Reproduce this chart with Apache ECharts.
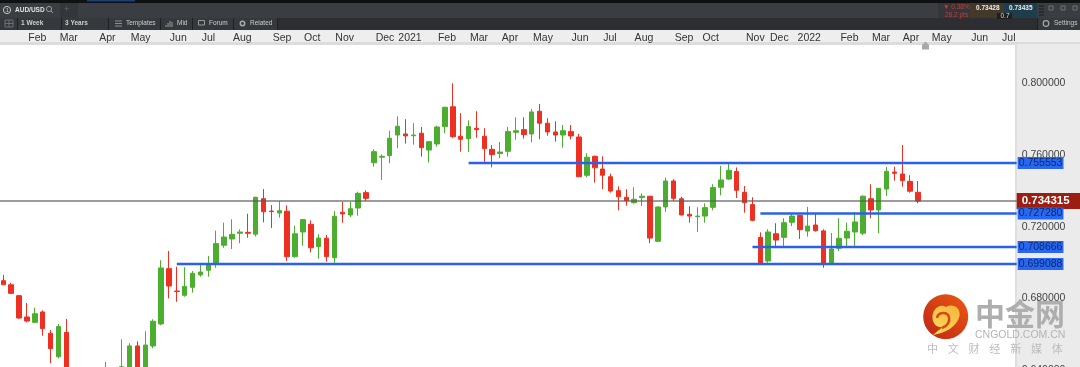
<!DOCTYPE html>
<html><head><meta charset="utf-8">
<style>html,body{margin:0;padding:0;background:#fff;overflow:hidden}#c{width:1080px;height:367px;filter:blur(0.35px)}</style>
<script src="https://cdn.jsdelivr.net/npm/echarts@6/dist/echarts.min.js"></script>
</head><body><div id="c"></div>
<script>
// Weekly AUD/USD candles. Candles 9-14 lie below the visible window: estimated.
const opens=[.6898,.6875,.6814,.6695,.6665,.6723,.6604,.6473,.6609,.6140,.5810,.6130,.6010,.6350,.6380,.6405,.6390,.6533,.6400,.6533,
.6656,.6965,.6840,.6816,.6861,.6930,.6956,.6995,.7096,.7131,.7163,.7168,.7158,.7356,.7287,.7276,.7286,.7032,.7170,.7213,
.7088,.7135,.7026,.7280,.7265,.7304,.7390,.7557,.7588,.7597,.7712,.7718,.7708,.7722,.7628,.7662,.7759,.7870,.7705,.7691,
.7750,.7705,.7632,.7609,.7621,.7727,.7742,.7718,.7845,.7778,.7729,.7712,.7731,.7701,.7487,.7593,.7522,.7479,.7401,.7364,
.7334,.7362,.7370,.7118,.7310,.7455,.7356,.7269,.7256,.7259,.7308,.7420,.7466,.7508,.7392,.7323,.7140,.7008,.7160,.7140,
.7224,.7263,.7175,.7209,.7176,.6995,.7079,.7136,.7170,.7163,.7356,.7293,.7410,.7505,.7494,.7453,.7392];
const closes=[.6875,.6827,.6689,.6672,.6713,.6630,.6518,.6641,.6140,.5810,.6130,.6010,.6350,.6380,.6370,.6417,.6533,.6400,.6538,.6671,
.6969,.6868,.6837,.6866,.6939,.6946,.6991,.7105,.7142,.7157,.7170,.7163,.7364,.7283,.7284,.7289,.7032,.7160,.7239,.7082,
.7136,.7032,.7258,.7271,.7300,.7386,.7358,.7619,.7593,.7694,.7761,.7707,.7712,.7641,.7675,.7757,.7867,.7703,.7688,.7759,
.7742,.7636,.7602,.7617,.7731,.7736,.7714,.7841,.7778,.7729,.7712,.7736,.7707,.7479,.7588,.7529,.7487,.7399,.7367,.7345,
.7353,.7370,.7136,.7310,.7455,.7358,.7265,.7259,.7259,.7306,.7418,.7461,.7515,.7403,.7334,.7235,.6995,.7170,.7125,.7222,
.7259,.7183,.7203,.7177,.6995,.7075,.7135,.7174,.7226,.7370,.7293,.7414,.7509,.7498,.7457,.7398,.7343];
const lows=[.6874,.6823,.6685,.6665,.6660,.6590,.6437,.6464,.6060,.5510,.5700,.5980,.5980,.6250,.6310,.6350,.6370,.6380,.6380,.6520,
.6649,.6799,.6780,.6808,.6831,.6920,.6920,.6970,.7082,.7075,.7107,.7138,.7145,.7224,.7192,.7250,.7008,.7026,.7093,.7056,
.7021,.7004,.6998,.7222,.7254,.7261,.7343,.7535,.7461,.7554,.7638,.7664,.7658,.7591,.7559,.7647,.7722,.7694,.7619,.7617,
.7697,.7562,.7531,.7582,.7591,.7686,.7692,.7671,.7688,.7708,.7675,.7641,.7688,.7477,.7476,.7446,.7410,.7390,.7291,.7317,
.7328,.7315,.7107,.7114,.7283,.7343,.7263,.7222,.7170,.7222,.7291,.7375,.7461,.7360,.7278,.7230,.6988,.6998,.7092,.7092,
.7203,.7131,.7144,.7172,.6970,.6985,.7064,.7088,.7088,.7153,.7247,.7163,.7371,.7457,.7423,.7390,.7330];
const highs=[.6930,.6886,.6818,.6773,.6747,.6732,.6622,.6656,.6684,.6200,.6150,.6210,.6400,.6443,.6405,.6570,.6548,.6559,.6615,.6682,
.7012,.7064,.6976,.6973,.6952,.6991,.7036,.7177,.7222,.7241,.7185,.7272,.7367,.7410,.7321,.7342,.7319,.7205,.7241,.7235,
.7157,.7153,.7287,.7338,.7339,.7395,.7403,.7632,.7604,.7736,.7817,.7800,.7778,.7757,.7677,.7764,.7870,.8001,.7834,.7794,
.7845,.7750,.7656,.7673,.7757,.7811,.7811,.7856,.7886,.7806,.7789,.7768,.7768,.7718,.7610,.7597,.7593,.7496,.7425,.7409,
.7420,.7386,.7370,.7311,.7474,.7465,.7367,.7314,.7308,.7330,.7437,.7539,.7554,.7531,.7427,.7364,.7168,.7185,.7219,.7247,
.7274,.7267,.7310,.7271,.7185,.7164,.7247,.7222,.7280,.7375,.7437,.7416,.7533,.7535,.7656,.7487,.7455];

const weekSlots=129;
const monthLabels=['Feb','Mar','Apr','May','Jun','Jul','Aug','Sep','Oct','Nov','Dec','2021','Feb','Mar','Apr','May','Jun','Jul','Aug','Sep','Oct','Nov','Dec','2022','Feb','Mar','Apr','May','Jun','Jul'];
const monthWeeks=[4.31,8.29,13.19,17.42,22.19,26.0,30.31,35.34,39.18,43.29,48.4,51.57,56.26,60.32,64.25,68.44,73.13,76.93,81.24,86.32,89.7,95.36,98.4,102.2,107.3,111.3,115.1,119.0,123.8,127.5];
const priceTicks=[0.64,0.68,0.72,0.76,0.80];
const levels=[0.755553,0.72728,0.708666,0.699088];
const levelStarts=[59,96,95,22];
const lastPrice=0.734315;

const toolbarRow2=['1 Week','3 Years','Templates','Mid','Forum','Related'];
const quote={chg:'\u25BC 0.38%',pts:'28.2 pts',bid:'0.73428',ask:'0.73435',spread:'0.7'};
const wmChars=['中','文','财','经','新','媒','体'];

const blue='#2a60ec';
const F='"Liberation Sans",Arial,sans-serif';
const weeks=Array.from({length:weekSlots},(_,i)=>'W'+i);
const ohlc=opens.map((o,i)=>[o,closes[i],lows[i],highs[i]]);
const xMin=-0.5,xMax=weekSlots-0.5;

echarts.graphic.registerShape('swirl',echarts.graphic.extendPath('M933 335 C945 333 957 327 959.5 316 C961 307 952 303 946 307 C940 303 932 309 932.5 318 C933 325 938 328 943 327 C939 330 936 332 933 335 Z'));
echarts.graphic.registerShape('swirlCurl',echarts.graphic.extendPath('M937 318 C938 312 947 311 949 317 C950 322 947 326 942 328'));

function rect(x,y,w,h,fill,z){return {type:'rect',silent:true,z:z,shape:{x,y,width:w,height:h},style:{fill}};}
function txt(x,y,t,col,size,opt){return {type:'text',silent:true,z:50,x,y,style:{text:t,fill:col,font:(opt&&opt.weight||'normal')+' '+size+'px '+F,textVerticalAlign:'middle',textAlign:'left'}};}
function line(x1,y1,x2,y2,col,w){return {type:'line',silent:true,z:50,shape:{x1,y1,x2,y2},style:{stroke:col,lineWidth:w||1}};}
function circ(cx,cy,r,col,w){return {type:'circle',silent:true,z:50,shape:{cx,cy,r},style:{fill:'none',stroke:col,lineWidth:w||1}};}

const g=[
 rect(0,30,1080,12,'#eeeeee',-1), rect(0,42,1080,3,'#dcdcdc',-1),
 rect(1016,44,64,330,'#ebebeb',-1), rect(1015,44,2,330,'#dedede',-1),
 rect(0,0,1080,3,'#101113',40), rect(87,0,48,1.5,'#1d3f73',41),
 rect(0,3,1080,15,'#3a3d42',40), rect(60,3,18,15,'#33363a',41),
 rect(0,18,1080,12,'#2c2e32',40), rect(0,18,277,12,'#35383c',41),
 rect(1037,18,43,12,'#35383c',41)
];
[17,61,108,160,192,233,277,1037].forEach(x=>g.push(rect(x,18,1,12,'#1f2023',45)));
g.push(circ(7,10,3.6,'#c4c4c4'),txt(5.5,10,'1','#c4c4c4',6));
g.push(txt(15,10,'AUD/USD','#e2e2e2',6.5,{weight:'bold'}));
g.push(circ(49,9,2.6,'#9a9a9a'),line(51,11,53,13,'#9a9a9a'));
g.push(txt(64,10,'+','#66696e',9));
g.push(line(5,20,13,20,'#6d7075'),line(5,27,13,27,'#6d7075'),line(5,20,5,27,'#6d7075'),line(13,20,13,27,'#6d7075'),line(9,20,9,27,'#6d7075'),line(5,23.5,13,23.5,'#6d7075'));
const row2x=[21,65,126,177,209,250];
toolbarRow2.forEach((t,i)=>g.push(txt(row2x[i],23.5,t,'#cfcfcf',6.5,{weight:i<2?'bold':'normal'})));
[21,23.5,26].forEach(y=>g.push(line(115,y,122,y,'#8d8f92')));
[[166,27,25],[168,27,23],[170,27,21],[172,27,22]].forEach(p=>g.push(line(p[0],p[1],p[0],p[2],'#9a9a9a')));
g.push({type:'rect',silent:true,z:50,shape:{x:198.5,y:20.5,width:6,height:4.5},style:{fill:'none',stroke:'#9a9a9a'}});
g.push(circ(242.5,23.5,2.2,'#aaaaaa',1.5));
g.push(txt(1054,23.5,'Settings','#c9c9c9',6.5),circ(1046,23.5,2.8,'#a8a8a8',1.2));
g.push(rect(938,3,32,15,'#35363a',45),rect(970,3,34,15,'#43392b',45),rect(1004,3,33,15,'#1f3e4c',45),rect(997,13,15,6,'#1e1f21',46));
g.push(txt(943,7,quote.chg,'#c93b36',6.5),txt(945,15,quote.pts,'#c93b36',6.5));
g.push(txt(976,8,quote.bid,'#f0f0f0',6.5,{weight:'bold'}),txt(1009,8,quote.ask,'#e6eef0',6.5,{weight:'bold'}));
g.push(txt(1000.5,16,quote.spread,'#dddddd',6.5));
[6,9,12,15].forEach(y=>g.push(line(1039,y,1044,y,'#1b1c1e')));
[[1051,8],[1063,8],[1075,8]].forEach(p=>g.push({type:'rect',silent:true,z:50,shape:{x:p[0]-2,y:p[1]-2,width:4,height:4},style:{fill:'none',stroke:'#6f7276'}}));
g.push({type:'polygon',silent:true,z:30,shape:{points:[[925.5,41.5],[929,45],[929,49.5],[922,49.5],[922,45]]},style:{fill:'#a9a9a9'}});
g.push({type:'circle',silent:true,z:60,shape:{cx:945.7,cy:316.7,r:22.5},style:{fill:{type:'linear',x:1,y:0,x2:0,y2:1,colorStops:[{offset:0,color:'#ee5a10'},{offset:1,color:'#bb2418'}]}}});
g.push({type:'swirl',silent:true,z:61,shape:{},style:{fill:{type:'linear',x:1,y:0,x2:0,y2:1,colorStops:[{offset:0,color:'#f5b53c'},{offset:1,color:'#fbdc5a'}]}}});
g.push({type:'swirlCurl',silent:true,z:62,shape:{},style:{fill:'none',stroke:'#d9481a',lineWidth:2.5}});
g.push({type:'text',silent:true,z:60,x:975,y:314,style:{text:'中金网',fill:'#aeaeae',font:'bold 30px "Noto Sans CJK SC"',textVerticalAlign:'middle',textAlign:'left'}});
g.push({type:'text',silent:true,z:60,x:975,y:335.5,style:{text:'CNGOLD.COM.CN',fill:'#b4b4b4',font:'10.5px '+F,textVerticalAlign:'middle',textAlign:'left'}});
wmChars.forEach((c,i)=>g.push({type:'text',silent:true,z:60,x:932.5+i*20.8,y:349,style:{text:c,fill:'#bcbcbc',font:'11px "Noto Sans CJK SC"',textVerticalAlign:'middle',textAlign:'center'}}));

function levelSeries(v,start,color,width,label){
 return {type:'line',xAxisIndex:1,yAxisIndex:0,data:[[start,v],[xMax,v]],symbol:'none',silent:true,z:5,
  lineStyle:{color,width},
  endLabel:Object.assign({show:true,formatter:()=>v.toFixed(6),fontFamily:F},label)};
}
const chart=echarts.init(document.getElementById('c'),null,{renderer:'canvas'});
chart.setOption({
 animation:false,backgroundColor:'#fff',graphic:{elements:g},
 grid:{left:-0.64,top:44,width:1017.3,height:333,outerBoundsMode:'none'},
 xAxis:[
  {type:'category',data:weeks,show:false,boundaryGap:true},
  {type:'value',position:'top',min:xMin,max:xMax,axisLine:{show:false},axisTick:{show:false},splitLine:{show:false},
   axisLabel:{show:true,margin:0,customValues:monthWeeks,color:'#333',fontSize:10.5,fontFamily:F,hideOverlap:false,
    formatter:v=>monthLabels[monthWeeks.indexOf(v)]}}
 ],
 yAxis:[{type:'value',position:'right',min:0.63594,max:0.82208,axisLine:{show:false},axisTick:{show:false},splitLine:{show:false},
   axisLabel:{customValues:priceTicks,margin:5,padding:[2,0,0,0],color:'#444',fontSize:10.5,fontFamily:F,formatter:v=>v.toFixed(6)}}],
 series:[
  {type:'candlestick',xAxisIndex:0,yAxisIndex:0,data:ohlc,barWidth:5,z:2,silent:true,clip:true,
   itemStyle:{color:'#4cae2e',color0:'#ee3023',borderColor:'#4cae2e',borderColor0:'#ee3023',borderWidth:1}},
  levelSeries(lastPrice,-0.5,'rgba(90,90,90,0.8)',1.5,{color:'#fff',fontWeight:'bold',fontSize:11.5,backgroundColor:'#9c1d12',padding:[2,13,2,5],distance:0}),
  ...levels.map((v,i)=>levelSeries(v,levelStarts[i],blue,2.5,{color:'#0b2a70',fontSize:10.5,backgroundColor:'#2767f2',padding:[1,1,0,1],distance:1}))
 ]
});
</script></body></html>
